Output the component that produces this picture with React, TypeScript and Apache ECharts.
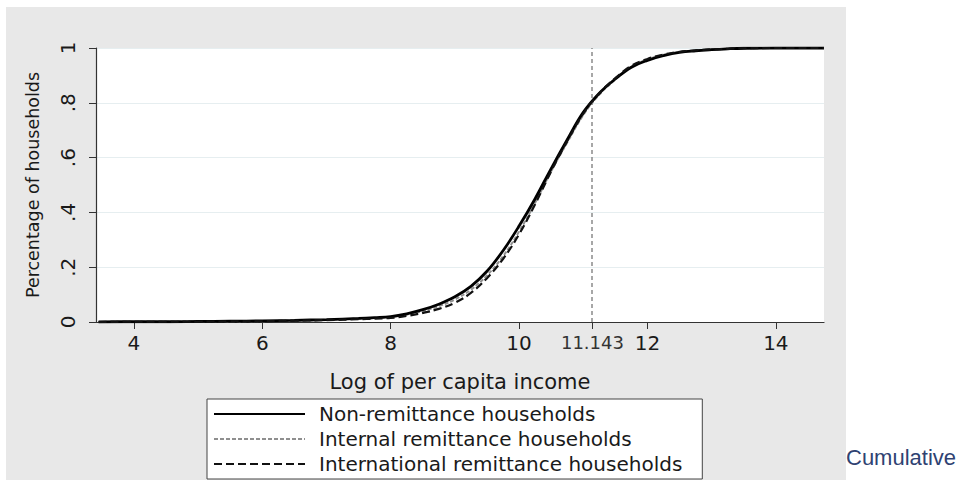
import React, { useEffect, useRef } from "react";
import * as echarts from "echarts";

// Log of per capita income (x) and cumulative share of households (y)
const logIncome = [3.45, 4, 4.5, 5, 5.5, 6, 6.5, 7, 7.5, 7.75, 8, 8.25, 8.5, 8.75, 9, 9.25, 9.5, 9.75, 10, 10.25, 10.5, 10.75, 11, 11.25, 11.5, 11.75, 12, 12.25, 12.5, 12.75, 13, 13.25, 13.5, 14, 14.75];
const nonRemittance = [0, 0.001, 0.001, 0.002, 0.003, 0.004, 0.006, 0.009, 0.013, 0.016, 0.02, 0.03, 0.045, 0.065, 0.092, 0.13, 0.185, 0.26, 0.35, 0.45, 0.56, 0.665, 0.765, 0.835, 0.887, 0.93, 0.955, 0.972, 0.984, 0.99, 0.994, 0.997, 0.999, 1, 1];
const internalRemittance = [0, 0.001, 0.001, 0.002, 0.002, 0.003, 0.005, 0.008, 0.012, 0.014, 0.018, 0.027, 0.04, 0.058, 0.082, 0.118, 0.17, 0.24, 0.33, 0.435, 0.55, 0.655, 0.755, 0.83, 0.885, 0.932, 0.958, 0.975, 0.986, 0.991, 0.995, 0.997, 0.999, 1, 1];
const internationalRemittance = [0, 0.001, 0.001, 0.001, 0.002, 0.003, 0.005, 0.007, 0.01, 0.012, 0.015, 0.022, 0.033, 0.048, 0.07, 0.106, 0.16, 0.23, 0.32, 0.43, 0.55, 0.66, 0.76, 0.835, 0.89, 0.935, 0.96, 0.976, 0.986, 0.991, 0.995, 0.997, 0.999, 1, 1];

const seriesNames = ["Non-remittance households", "Internal remittance households", "International remittance households"];
const xTicks = [4, 6, 8, 10, 11.143, 12, 14];
const cutoff = 11.143;
const xTitle = "Log of per capita income";
const yTitle = "Percentage of households";
const sideCaption = "Cumulative";

const FONT = "DejaVu Sans";

export default function App() {
  const ref = useRef<HTMLDivElement>(null);
  useEffect(() => {
    const chart = echarts.init(ref.current!, null, { renderer: "svg" });
    const pair = (ys: number[]) => logIncome.map((x, i) => [x, ys[i]]);
    chart.setOption({
      animation: false,
      backgroundColor: "#ffffff",
      graphic: [
        {
          type: "rect",
          z: -10,
          silent: true,
          shape: { x: 6, y: 7, width: 840, height: 473 },
          style: { fill: "#e8e8e8" },
        },
        {
          type: "text",
          left: 846,
          top: 446,
          silent: true,
          style: { text: sideCaption, fill: "#2f4272", font: "22px 'Liberation Sans'" },
        },
      ],
      grid: {
        left: 96,
        top: 48,
        width: 728,
        height: 274,
        show: true,
        backgroundColor: "#ffffff",
        borderWidth: 0,
      },
      legend: {
        orient: "vertical",
        left: 207,
        top: 399,
        padding: [5, 20, 5, 6],
        itemGap: 5,
        itemWidth: 91,
        itemHeight: 14,
        backgroundColor: "#ffffff",
        borderColor: "#444",
        borderWidth: 1,
        borderRadius: 0,
        itemStyle: { opacity: 0 },
        textStyle: { fontFamily: FONT, fontSize: 20, color: "#1a1a1a", padding: [0, 0, 0, 9], lineHeight: 20 },
        data: seriesNames,
      },
      xAxis: {
        type: "value",
        min: 3.41,
        max: 14.75,
        name: xTitle,
        nameLocation: "middle",
        nameGap: 49,
        nameTextStyle: { fontFamily: FONT, fontSize: 21, color: "#1a1a1a" },
        axisLine: { show: true, onZero: false, lineStyle: { color: "#333", width: 1.2 } },
        axisTick: { show: true, length: 7, customValues: xTicks, lineStyle: { color: "#333" } },
        axisLabel: {
          customValues: xTicks,
          margin: 11,
          fontFamily: FONT,
          fontSize: 20,
          color: "#1a1a1a",
          formatter: (v: number) => (Math.abs(v - cutoff) < 1e-6 ? "{s|11.143}" : String(v)),
          rich: { s: { fontFamily: FONT, fontSize: 18, color: "#333" } },
        },
        splitLine: { show: false },
      },
      yAxis: {
        type: "value",
        min: 0,
        max: 1,
        interval: 0.2,
        name: yTitle,
        nameLocation: "middle",
        nameGap: 54,
        nameTextStyle: { fontFamily: FONT, fontSize: 17.5, color: "#1a1a1a" },
        axisLine: { show: true, lineStyle: { color: "#333", width: 1.2 } },
        axisTick: { show: true, length: 7, lineStyle: { color: "#333" } },
        axisLabel: {
          rotate: 90,
          margin: 18,
          fontFamily: FONT,
          fontSize: 20,
          color: "#1a1a1a",
          formatter: (v: number) => {
            const s = v.toFixed(1);
            if (s === "0.0") return "0";
            if (s === "1.0") return "1";
            return s.replace(/^0/, "");
          },
        },
        splitLine: { show: true, lineStyle: { color: "#e6eef0", width: 1.2 } },
      },
      series: [
        {
          name: seriesNames[0],
          type: "line",
          data: pair(nonRemittance),
          showSymbol: false,
          symbol: "none",
          smooth: 0.4,
          lineStyle: { color: "#000", width: 2.8, type: "solid" },
          itemStyle: { color: "#000" },
          z: 4,
          markLine: {
            silent: true,
            symbol: "none",
            label: { show: false },
            lineStyle: { color: "#8a8a8a", type: [4, 3], width: 1.5 },
            data: [{ xAxis: cutoff }],
          },
        },
        {
          name: seriesNames[1],
          type: "line",
          data: pair(internalRemittance),
          showSymbol: false,
          symbol: "none",
          smooth: 0.4,
          lineStyle: { color: "#8f8f8f", width: 2, type: [4, 2] },
          itemStyle: { color: "#8f8f8f" },
          z: 3,
        },
        {
          name: seriesNames[2],
          type: "line",
          data: pair(internationalRemittance),
          showSymbol: false,
          symbol: "none",
          smooth: 0.4,
          lineStyle: { color: "#111", width: 2.2, type: [8, 4] },
          itemStyle: { color: "#111" },
          z: 5,
        },
      ],
    });
    return () => chart.dispose();
  }, []);
  return (
    <div
      ref={ref}
      style={{ position: "fixed", left: 0, top: 0, width: 962, height: 486, background: "#fff" }}
    />
  );
}
